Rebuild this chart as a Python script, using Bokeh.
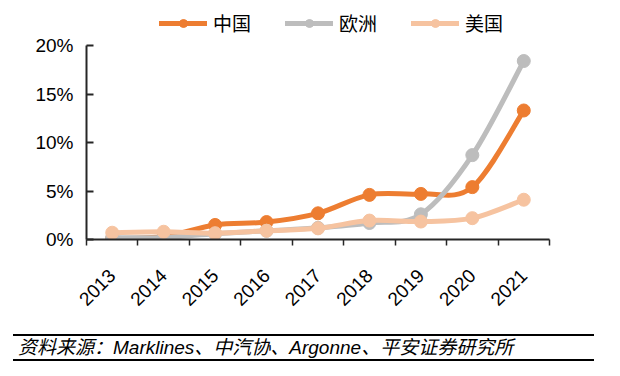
import numpy as np
from math import pi
from bokeh.plotting import figure
from bokeh.models import (FixedTicker, Legend, LegendItem, ColumnDataSource, Div, Range1d)
from bokeh.layouts import column
from bokeh.embed import file_html
from bokeh.resources import INLINE

# ---------------- data ----------------
years = ["2013", "2014", "2015", "2016", "2017", "2018", "2019", "2020", "2021"]
china = [0.1, 0.3, 1.5, 1.8, 2.7, 4.6, 4.7, 5.4, 13.3]
europe = [0.2, 0.2, 0.6, 0.9, 1.2, 1.7, 2.6, 8.7, 18.4]
usa = [0.7, 0.8, 0.65, 0.9, 1.15, 1.95, 1.85, 2.2, 4.1]
series_names = ["中国", "欧洲", "美国"]
series_values = [china, europe, usa]
series_colors = ["#ED7D31", "#BDBDBD", "#F6C3A0"]
y_ticks = [0, 5, 10, 15, 20]
y_tick_labels = ["0%", "5%", "10%", "15%", "20%"]
source_text = "资料来源：Marklines、中汽协、Argonne、平安证券研究所"

FONT = "'Liberation Sans', 'Noto Sans CJK SC'"

# layout: frame extends above the 20% line so the legend can sit inside it
FRAME_TOP_PAD = 37      # px between frame top and the 20% tick
AXIS_PX = 194           # px from 0% to 20%
y_top = y_ticks[-1] * (AXIS_PX + FRAME_TOP_PAD) / AXIS_PX


def smooth_source(vals):
    """Catmull-Rom style bezier segments (Excel 'smoothed line') through the data points."""
    x = np.arange(len(vals), dtype=float)
    y = np.asarray(vals, dtype=float)
    xp = np.concatenate([[x[0]], x, [x[-1]]])
    yp = np.concatenate([[y[0]], y, [y[-1]]])
    n = len(vals)
    d = dict(x0=[], y0=[], x1=[], y1=[], cx0=[], cy0=[], cx1=[], cy1=[])
    for i in range(n - 1):
        pxm, pym = xp[i], yp[i]
        px0, py0 = xp[i + 1], yp[i + 1]
        px1, py1 = xp[i + 2], yp[i + 2]
        px2, py2 = xp[i + 3], yp[i + 3]
        d["x0"].append(px0); d["y0"].append(py0)
        d["x1"].append(px1); d["y1"].append(py1)
        d["cx0"].append(px0 + (px1 - pxm) / 6.0)
        d["cy0"].append(py0 + (py1 - pym) / 6.0)
        d["cx1"].append(px1 - (px2 - px0) / 6.0)
        d["cy1"].append(py1 - (py2 - py0) / 6.0)
    return ColumnDataSource(d)


p = figure(width=604, height=326, output_backend="svg", toolbar_location=None,
           x_range=Range1d(-0.5, len(years) - 0.5), y_range=Range1d(y_ticks[0], y_top),
           min_border_left=86, min_border_right=55, min_border_top=8, min_border_bottom=87)
p.outline_line_color = None
p.xgrid.grid_line_color = None
p.ygrid.grid_line_color = None

items = []
for name, vals, col in zip(series_names, series_values, series_colors):
    src = smooth_source(vals)
    r_line = p.bezier(x0="x0", y0="y0", x1="x1", y1="y1", cx0="cx0", cy0="cy0",
                      cx1="cx1", cy1="cy1", source=src, line_color=col, line_width=5,
                      line_cap="round")
    r_pts = p.scatter(x=list(range(len(years))), y=vals, size=13, fill_color=col,
                      line_color=col)
    items.append(LegendItem(label=name, renderers=[r_line, r_pts]))

# x axis
xa = p.xaxis[0]
xa.ticker = FixedTicker(ticks=list(range(len(years))),
                        minor_ticks=[i - 0.5 for i in range(len(years) + 1)])
xa.major_label_overrides = {i: y for i, y in enumerate(years)}
xa.major_tick_in = 0
xa.major_tick_out = 0
xa.minor_tick_in = 0
xa.minor_tick_out = 6
xa.minor_tick_line_color = "#262626"
xa.minor_tick_line_width = 1.5
xa.axis_line_color = "#262626"
xa.axis_line_width = 2
xa.major_label_orientation = pi / 4
xa.major_label_standoff = 27
xa.major_label_text_font = FONT
xa.major_label_text_font_size = "19px"
xa.major_label_text_color = "#000000"

# y axis
ya = p.yaxis[0]
ya.ticker = FixedTicker(ticks=y_ticks, minor_ticks=[])
ya.bounds = (y_ticks[0], y_ticks[-1])
ya.major_label_overrides = {t: l for t, l in zip(y_ticks, y_tick_labels)}
ya.major_tick_in = 7
ya.major_tick_out = 0
ya.major_tick_line_color = "#262626"
ya.major_tick_line_width = 2
ya.axis_line_color = "#262626"
ya.axis_line_width = 2
ya.major_label_standoff = 13
ya.major_label_text_font = FONT
ya.major_label_text_font_size = "19px"
ya.major_label_text_color = "#000000"

legend = Legend(items=items, location=(73, 203), orientation="horizontal",
                padding=0, margin=0, border_line_color=None, background_fill_alpha=0,
                glyph_width=48, glyph_height=20, label_standoff=6, spacing=34,
                label_text_font="Noto Sans CJK SC", label_text_font_size="19px",
                label_text_color="#000000", label_height=20)
p.add_layout(legend, "center")

note = Div(text=source_text, width=581, height=27, margin=(8, 0, 0, 13),
           styles={"border-top": "2px solid #000", "border-bottom": "2px solid #000",
                   "font-style": "italic", "font-size": "19px",
                   "font-family": FONT, "padding-left": "5px",
                   "line-height": "23px", "box-sizing": "border-box",
                   "color": "#000", "white-space": "nowrap"})

layout = column(p, note, spacing=0)
open("out.html", "w").write(file_html(layout, INLINE))
